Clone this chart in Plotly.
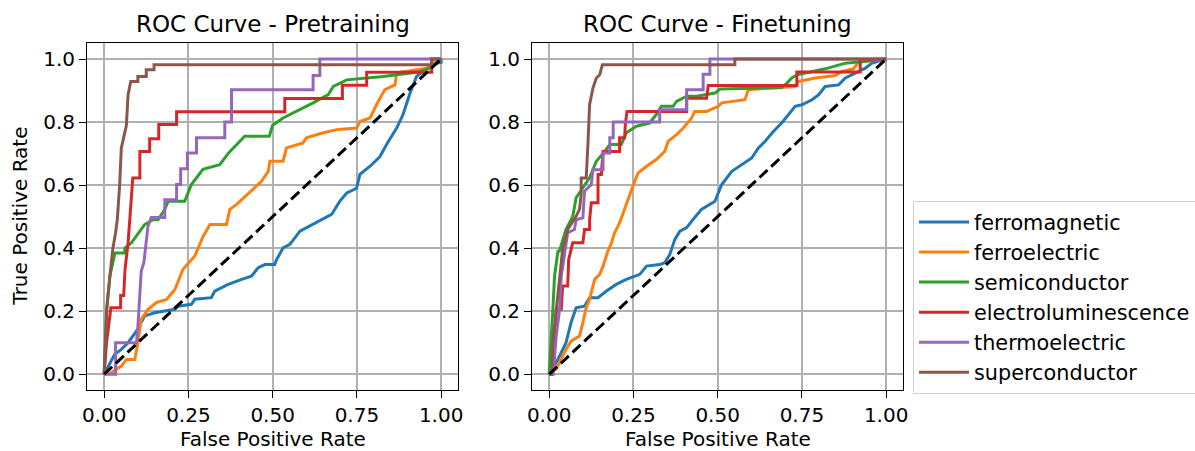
import plotly.graph_objects as go

# ---------------- data ----------------
class_names = ["ferromagnetic", "ferroelectric", "semiconductor",
               "electroluminescence", "thermoelectric", "superconductor"]
colors = ["#1f77b4", "#ff7f0e", "#2ca02c", "#d62728", "#9467bd", "#8c564b"]
panel_titles = ["ROC Curve - Pretraining", "ROC Curve - Finetuning"]
x_tickvals = [0, 0.25, 0.5, 0.75, 1.0]
x_ticktext = ["0.00", "0.25", "0.50", "0.75", "1.00"]
y_tickvals = [0, 0.2, 0.4, 0.6, 0.8, 1.0]
y_ticktext = ["0.0", "0.2", "0.4", "0.6", "0.8", "1.0"]

# Pretraining
fpr_pre_ferromagnetic = [0, 0.012, 0.031, 0.051, 0.071, 0.10, 0.12, 0.15, 0.21, 0.22, 0.259, 0.269, 0.318, 0.328, 0.368, 0.408, 0.437, 0.457, 0.477, 0.506, 0.512, 0.531, 0.551, 0.581, 0.61, 0.64, 0.675, 0.70, 0.72, 0.749, 0.759, 0.789, 0.818, 0.838, 0.868, 0.887, 0.907, 0.927, 0.957, 0.987, 1.0, 1.0]
tpr_pre_ferromagnetic = [0, 0.026, 0.063, 0.079, 0.10, 0.143, 0.185, 0.195, 0.206, 0.216, 0.222, 0.238, 0.243, 0.264, 0.285, 0.301, 0.311, 0.338, 0.348, 0.348, 0.364, 0.401, 0.412, 0.454, 0.47, 0.486, 0.507, 0.55, 0.575, 0.59, 0.634, 0.66, 0.69, 0.729, 0.781, 0.824, 0.89, 0.945, 0.97, 0.987, 0.99, 1.0]

fpr_pre_ferroelectric = [0, 0.02, 0.035, 0.051, 0.066, 0.091, 0.10, 0.11, 0.13, 0.155, 0.185, 0.21, 0.234, 0.269, 0.294, 0.314, 0.363, 0.373, 0.393, 0.437, 0.467, 0.487, 0.492, 0.531, 0.541, 0.59, 0.60, 0.65, 0.69, 0.749, 0.759, 0.789, 0.808, 0.833, 0.863, 0.868, 0.957, 0.987, 1.0]
tpr_pre_ferroelectric = [0, 0.005, 0.015, 0.026, 0.047, 0.047, 0.10, 0.174, 0.206, 0.227, 0.237, 0.269, 0.333, 0.375, 0.438, 0.475, 0.475, 0.523, 0.539, 0.581, 0.612, 0.644, 0.676, 0.676, 0.718, 0.734, 0.75, 0.766, 0.776, 0.781, 0.802, 0.813, 0.855, 0.903, 0.918, 0.956, 0.971, 0.993, 1.0]

fpr_pre_semiconductor = [0, 0.007, 0.017, 0.032, 0.061, 0.061, 0.081, 0.12, 0.145, 0.16, 0.18, 0.19, 0.239, 0.259, 0.293, 0.343, 0.37, 0.417, 0.49, 0.50, 0.531, 0.581, 0.62, 0.665, 0.68, 0.72, 0.828, 0.937, 0.967, 1.0]
tpr_pre_semiconductor = [0, 0.206, 0.311, 0.385, 0.385, 0.40, 0.417, 0.475, 0.49, 0.49, 0.523, 0.549, 0.549, 0.602, 0.65, 0.665, 0.703, 0.755, 0.755, 0.79, 0.813, 0.839, 0.861, 0.887, 0.913, 0.934, 0.945, 0.96, 0.972, 1.0]

fpr_pre_electroluminescence = [0, 0.007, 0.020, 0.049, 0.049, 0.058, 0.062, 0.071, 0.078, 0.085, 0.106, 0.106, 0.135, 0.135, 0.162, 0.162, 0.215, 0.215, 0.536, 0.536, 0.707, 0.707, 0.779, 0.779, 0.972, 0.972, 1.0]
tpr_pre_electroluminescence = [0, 0.10, 0.211, 0.211, 0.25, 0.25, 0.333, 0.417, 0.52, 0.623, 0.623, 0.707, 0.707, 0.747, 0.747, 0.792, 0.792, 0.833, 0.833, 0.875, 0.875, 0.917, 0.917, 0.958, 0.958, 1.0, 1.0]

fpr_pre_thermoelectric = [0, 0.034, 0.034, 0.096, 0.10, 0.106, 0.11, 0.118, 0.124, 0.130, 0.140, 0.18, 0.18, 0.215, 0.215, 0.227, 0.227, 0.247, 0.247, 0.274, 0.274, 0.358, 0.358, 0.378, 0.378, 0.62, 0.62, 0.64, 0.64, 1.0]
tpr_pre_thermoelectric = [0, 0, 0.10, 0.10, 0.149, 0.259, 0.327, 0.355, 0.406, 0.47, 0.497, 0.497, 0.554, 0.554, 0.602, 0.602, 0.652, 0.652, 0.702, 0.702, 0.75, 0.75, 0.80, 0.80, 0.903, 0.903, 0.948, 0.948, 1.0, 1.0]

fpr_pre_superconductor = [0, 0.004, 0.008, 0.017, 0.026, 0.034, 0.039, 0.046, 0.051, 0.066, 0.071, 0.079, 0.10, 0.10, 0.125, 0.125, 0.148, 0.148, 0.972, 0.972, 1.0]
tpr_pre_superconductor = [0, 0.10, 0.206, 0.311, 0.40, 0.45, 0.49, 0.60, 0.718, 0.79, 0.887, 0.929, 0.929, 0.945, 0.945, 0.966, 0.966, 0.982, 0.982, 1.0, 1.0]

# Finetuning
fpr_fin_ferromagnetic = [0, 0.021, 0.036, 0.05, 0.065, 0.08, 0.105, 0.12, 0.145, 0.17, 0.199, 0.229, 0.269, 0.289, 0.328, 0.343, 0.358, 0.373, 0.388, 0.408, 0.427, 0.452, 0.492, 0.512, 0.542, 0.571, 0.601, 0.621, 0.641, 0.666, 0.69, 0.73, 0.75, 0.78, 0.80, 0.819, 0.859, 0.879, 0.908, 0.938, 0.958, 1.0]
tpr_fin_ferromagnetic = [0, 0.037, 0.069, 0.10, 0.164, 0.211, 0.216, 0.243, 0.243, 0.264, 0.285, 0.301, 0.317, 0.343, 0.348, 0.354, 0.38, 0.428, 0.454, 0.465, 0.491, 0.523, 0.549, 0.602, 0.644, 0.665, 0.686, 0.718, 0.739, 0.771, 0.797, 0.85, 0.855, 0.871, 0.887, 0.913, 0.918, 0.94, 0.956, 0.971, 0.987, 1.0]

fpr_fin_ferroelectric = [0, 0.01, 0.021, 0.031, 0.05, 0.065, 0.09, 0.10, 0.11, 0.12, 0.135, 0.15, 0.16, 0.174, 0.185, 0.194, 0.209, 0.229, 0.244, 0.254, 0.264, 0.289, 0.318, 0.343, 0.353, 0.378, 0.398, 0.423, 0.432, 0.467, 0.502, 0.512, 0.581, 0.591, 0.73, 0.74, 0.79, 0.849, 0.869, 0.903, 0.918, 1.0]
tpr_fin_ferroelectric = [0, 0.01, 0.016, 0.037, 0.079, 0.105, 0.121, 0.164, 0.211, 0.238, 0.301, 0.317, 0.343, 0.39, 0.417, 0.449, 0.48, 0.539, 0.586, 0.612, 0.639, 0.66, 0.681, 0.707, 0.739, 0.76, 0.781, 0.813, 0.834, 0.834, 0.85, 0.861, 0.871, 0.903, 0.913, 0.929, 0.94, 0.948, 0.961, 0.969, 0.99, 1.0]

fpr_fin_semiconductor = [0, 0.006, 0.011, 0.016, 0.026, 0.03, 0.05, 0.07, 0.08, 0.12, 0.14, 0.165, 0.18, 0.214, 0.229, 0.259, 0.298, 0.318, 0.333, 0.368, 0.378, 0.408, 0.437, 0.492, 0.507, 0.69, 0.705, 0.72, 0.735, 0.819, 0.879, 0.958, 1.0]
tpr_fin_semiconductor = [0, 0.10, 0.206, 0.311, 0.39, 0.39, 0.459, 0.501, 0.56, 0.623, 0.676, 0.707, 0.729, 0.729, 0.766, 0.787, 0.797, 0.824, 0.85, 0.85, 0.866, 0.882, 0.882, 0.892, 0.905, 0.91, 0.923, 0.94, 0.95, 0.969, 0.987, 0.995, 1.0]

fpr_fin_electroluminescence = [0, 0.008, 0.016, 0.021, 0.036, 0.04, 0.055, 0.058, 0.07, 0.10, 0.105, 0.12, 0.12, 0.125, 0.145, 0.145, 0.155, 0.16, 0.209, 0.209, 0.224, 0.226, 0.231, 0.408, 0.408, 0.467, 0.472, 0.735, 0.735, 0.923, 0.923, 1.0]
tpr_fin_electroluminescence = [0, 0, 0.10, 0.206, 0.206, 0.28, 0.28, 0.364, 0.417, 0.417, 0.459, 0.459, 0.49, 0.544, 0.544, 0.634, 0.634, 0.707, 0.707, 0.75, 0.75, 0.792, 0.834, 0.834, 0.876, 0.876, 0.916, 0.916, 0.959, 0.959, 0.997, 1.0]

fpr_fin_thermoelectric = [0, 0.006, 0.012, 0.021, 0.031, 0.036, 0.046, 0.055, 0.075, 0.08, 0.10, 0.105, 0.125, 0.13, 0.16, 0.16, 0.18, 0.18, 0.19, 0.19, 0.328, 0.328, 0.408, 0.408, 0.457, 0.457, 0.477, 0.477, 1.0]
tpr_fin_thermoelectric = [0, 0, 0, 0.121, 0.206, 0.311, 0.385, 0.449, 0.459, 0.49, 0.496, 0.581, 0.602, 0.649, 0.649, 0.702, 0.702, 0.75, 0.75, 0.80, 0.80, 0.839, 0.839, 0.903, 0.903, 0.952, 0.952, 1.0, 1.0]

fpr_fin_superconductor = [0, 0.007, 0.011, 0.021, 0.031, 0.04, 0.055, 0.08, 0.09, 0.095, 0.095, 0.11, 0.115, 0.12, 0.13, 0.14, 0.15, 0.158, 0.551, 0.551, 1.0]
tpr_fin_superconductor = [0, 0, 0.10, 0.206, 0.311, 0.396, 0.459, 0.501, 0.523, 0.57, 0.623, 0.623, 0.729, 0.855, 0.908, 0.94, 0.95, 0.982, 0.982, 1.0, 1.0]

chance_x = [0, 1]
chance_y = [0, 1]

pre_curves = [
    (fpr_pre_ferromagnetic, tpr_pre_ferromagnetic),
    (fpr_pre_ferroelectric, tpr_pre_ferroelectric),
    (fpr_pre_semiconductor, tpr_pre_semiconductor),
    (fpr_pre_electroluminescence, tpr_pre_electroluminescence),
    (fpr_pre_thermoelectric, tpr_pre_thermoelectric),
    (fpr_pre_superconductor, tpr_pre_superconductor),
]
fin_curves = [
    (fpr_fin_ferromagnetic, tpr_fin_ferromagnetic),
    (fpr_fin_ferroelectric, tpr_fin_ferroelectric),
    (fpr_fin_semiconductor, tpr_fin_semiconductor),
    (fpr_fin_electroluminescence, tpr_fin_electroluminescence),
    (fpr_fin_thermoelectric, tpr_fin_thermoelectric),
    (fpr_fin_superconductor, tpr_fin_superconductor),
]

# ---------------- figure ----------------
W, H = 1195, 451
FONT = "DejaVu Sans"
LW = 3

fig = go.Figure()
for panel, curves in enumerate([pre_curves, fin_curves]):
    xa = "x" if panel == 0 else "x2"
    ya = "y" if panel == 0 else "y2"
    for i, (fx, ty) in enumerate(curves):
        fig.add_trace(go.Scatter(
            x=fx, y=ty, mode="lines", name=class_names[i],
            legendgroup=class_names[i], showlegend=(panel == 0),
            line=dict(color=colors[i], width=LW),
            xaxis=xa, yaxis=ya, hoverinfo="skip"))
    fig.add_trace(go.Scatter(
        x=chance_x, y=chance_y, mode="lines", showlegend=False,
        line=dict(color="black", width=LW, dash="11px,5px"),
        xaxis=xa, yaxis=ya, hoverinfo="skip"))

ydom = [(H - 390) / H, (H - 43.3) / H]
xdom1 = [87.3 / W, 458 / W]
xdom2 = [532.3 / W, 903 / W]

common_axis = dict(
    showgrid=True, gridcolor="#b0b0b0", gridwidth=1.5,
    showline=True, linecolor="black", linewidth=1.4, mirror=True,
    ticks="outside", ticklen=7, tickwidth=1.4, tickcolor="black",
    zeroline=False, tickfont=dict(family=FONT, size=20, color="black"),
    range=[-0.05, 1.05], fixedrange=True,
)

fig.update_layout(
    width=W, height=H,
    margin=dict(l=0, r=0, t=0, b=0, autoexpand=False),
    paper_bgcolor="white", plot_bgcolor="white",
    font=dict(family=FONT, size=20, color="black"),
    xaxis=dict(domain=xdom1, anchor="y", tickvals=x_tickvals, ticktext=x_ticktext, **common_axis),
    yaxis=dict(domain=ydom, anchor="x", tickvals=y_tickvals, ticktext=y_ticktext, **common_axis),
    xaxis2=dict(domain=xdom2, anchor="y2", tickvals=x_tickvals, ticktext=x_ticktext, **common_axis),
    yaxis2=dict(domain=ydom, anchor="x2", tickvals=y_tickvals, ticktext=y_ticktext, **common_axis),
    legend=dict(x=913 / W, y=(H - 201) / H, xanchor="left", yanchor="top",
                bordercolor="#d0d0d0", borderwidth=1, bgcolor="white",
                font=dict(family=FONT, size=20.8, color="black"),
                itemwidth=50, tracegroupgap=0),
    showlegend=True,
)

annotations = []
for dom, title in zip([xdom1, xdom2], panel_titles):
    cx = (dom[0] + dom[1]) / 2
    annotations.append(dict(text=title, x=cx, y=(H - 24) / H, xref="paper", yref="paper",
                            xanchor="center", yanchor="middle", showarrow=False,
                            font=dict(family=FONT, size=23, color="black")))
    annotations.append(dict(text="False Positive Rate", x=cx, y=(H - 439) / H, xref="paper", yref="paper",
                            xanchor="center", yanchor="middle", showarrow=False,
                            font=dict(family=FONT, size=20, color="black")))
annotations.append(dict(text="True Positive Rate", x=20 / W, y=(ydom[0] + ydom[1]) / 2,
                        xref="paper", yref="paper", xanchor="center", yanchor="middle",
                        textangle=-90, showarrow=False,
                        font=dict(family=FONT, size=20, color="black")))
fig.update_layout(annotations=annotations)

fig.write_html("out.html", config={"displayModeBar": False},
               post_script="document.body.style.margin='0px';document.body.style.overflow='hidden';")
